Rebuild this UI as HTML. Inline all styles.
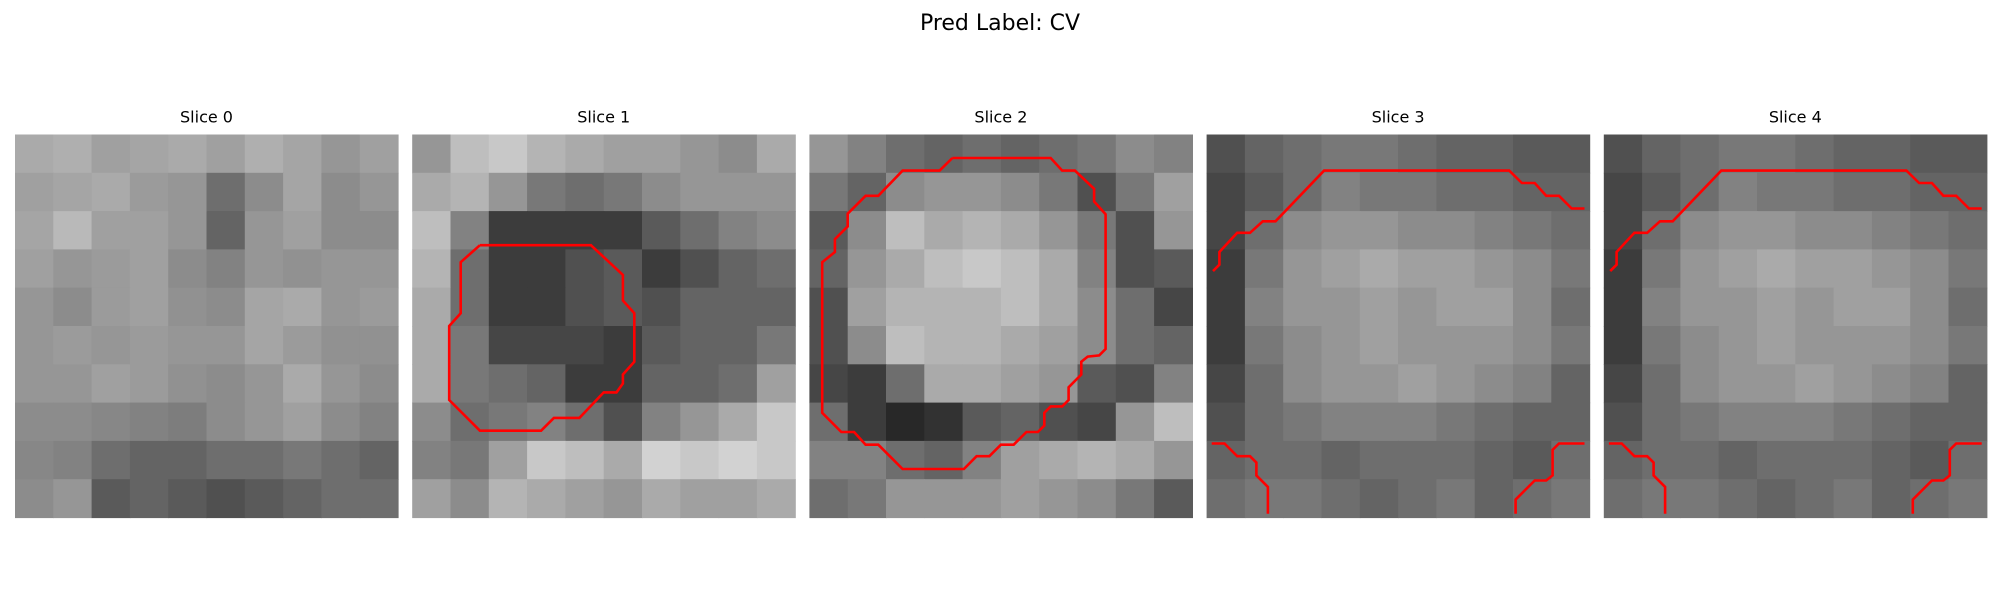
<!DOCTYPE html>
<html><head><meta charset="utf-8">
<style>
html,body{margin:0;padding:0;background:#fff;}
svg{display:block;}
text{font-family:"DejaVu Sans","Liberation Sans",sans-serif;fill:#000;}
</style></head>
<body>
<svg id="fig" width="2000" height="600" viewBox="0 0 2000 600">
<text x="1000" y="30" font-size="22" text-anchor="middle">Pred Label: CV</text>
<g id="panels"></g>
</svg>
<script>
const sliceTitles = ["Slice 0","Slice 1","Slice 2","Slice 3","Slice 4"];
const slice0 = [
[170,175,160,165,170,160,175,165,150,160],
[160,165,170,155,150,110,140,165,140,150],
[165,185,160,160,150,100,150,160,140,140],
[160,150,155,160,140,130,150,145,150,150],
[150,140,155,160,145,140,165,170,150,155],
[150,155,150,155,150,150,165,155,145,145],
[150,150,160,155,145,140,150,170,150,140],
[140,140,135,130,125,140,150,160,140,130],
[135,130,110,100,100,110,110,120,110,100],
[140,150,90,100,90,80,90,100,110,110]];
const slice1 = [
[150,190,200,180,170,160,160,150,140,170],
[170,180,150,120,110,120,140,150,150,150],
[190,130,60,60,60,60,90,110,130,140],
[180,110,60,60,80,90,60,80,100,110],
[170,110,60,60,80,90,80,100,100,100],
[170,120,70,70,70,60,90,100,100,120],
[170,120,110,100,60,60,100,100,110,160],
[140,110,120,130,110,80,130,150,170,200],
[130,120,160,200,190,170,210,200,210,200],
[160,140,180,170,160,150,170,160,160,170]];
const slice2 = [
[150,130,110,100,110,100,110,120,140,130],
[120,100,140,150,150,140,120,80,120,160],
[90,140,190,170,180,170,150,120,80,150],
[100,150,170,190,200,190,170,130,80,90],
[80,160,180,180,180,190,170,140,110,70],
[80,140,190,180,180,170,160,140,110,100],
[70,60,110,170,170,160,150,90,80,130],
[110,60,40,50,90,100,80,70,150,190],
[130,130,110,100,130,160,170,180,170,150],
[110,120,150,150,150,160,150,140,120,90]];
const slice3 = [
[80,100,110,120,120,110,100,100,90,90],
[70,90,110,130,120,120,110,110,100,100],
[70,110,140,150,150,140,140,130,120,110],
[60,120,150,160,170,160,160,150,140,120],
[60,130,150,150,160,150,160,160,140,110],
[60,120,140,150,160,150,150,150,140,120],
[70,110,140,150,150,160,150,140,130,100],
[80,110,120,130,130,130,120,110,100,100],
[100,110,110,100,110,110,110,100,90,110],
[110,120,120,110,100,110,120,100,110,120]];
const slice4 = slice3;
const sliceGrids = [slice0,slice1,slice2,slice3,slice4];
const contour1 = [[[5.3,8.67],[14,8.67],[16.5,11],[16.5,13],[17.4,14],[17.4,17.8],[16.5,18.8],[16.5,19.5],[16,20.2],[15,20.2],[13.1,22.2],[11.1,22.2],[10.1,23.2],[5.3,23.2],[2.9,20.8],[2.9,15],[3.8,14],[3.8,10],[5.3,8.67]]];
const contour2 = [[[11.2,1.84],[18.9,1.84],[19.8,2.83],[20.8,2.83],[22.3,4.25],[22.3,5.25],[23.2,6.25],[23.2,16.8],[22.7,17.3],[21.8,17.4],[21.3,17.8],[21.3,18.8],[20.3,19.8],[20.3,20.8],[19.8,21.3],[18.9,21.3],[18.4,21.8],[18.4,22.8],[17.9,23.3],[17,23.3],[16,24.3],[15,24.3],[14.1,25.2],[13.1,25.2],[12.1,26.2],[7.3,26.2],[5.4,24.3],[4.4,24.3],[3.5,23.3],[2.5,23.3],[1,21.8],[1,10],[2,9.2],[2,8.2],[3,7.2],[3,6.2],[4.4,4.8],[5.4,4.8],[7.3,2.83],[10.2,2.83],[11.2,1.84]]];
const contour3 = [
[[0.5,10.7],[1,10.2],[1,9.2],[2.4,7.7],[3.4,7.7],[4.4,6.8],[5.4,6.8],[9.2,2.83],[23.7,2.83],[24.7,3.8],[25.7,3.8],[26.6,4.8],[27.6,4.8],[28.6,5.8],[29.6,5.8]],
[[0.4,24.2],[1.4,24.2],[2.4,25.2],[3.4,25.2],[3.9,25.7],[3.9,26.7],[4.8,27.6],[4.8,29.7]],
[[29.6,24.2],[27.6,24.2],[27.1,24.7],[27.1,26.7],[26.6,27.1],[25.7,27.1],[24.2,28.6],[24.2,29.7]]];
const contours = [[],contour1,contour2,contour3,contour3];

const NS="http://www.w3.org/2000/svg";
const panelX0=15, panelStep=397.2, panelY0=134.5, panelSize=383, imgCells=30;
const root=document.getElementById('panels');
function mk(tag,attrs){const e=document.createElementNS(NS,tag);for(const k in attrs)e.setAttribute(k,attrs[k]);return e;}
sliceGrids.forEach((grid,p)=>{
  const px=panelX0+p*panelStep;
  const g=mk('g',{});
  
  
  const t=mk('text',{x:px+panelSize/2,y:panelY0-12,'font-size':16,'text-anchor':'middle'});
  t.textContent=sliceTitles[p];
  
  
  g.appendChild(t);
  const n=grid.length, cs=panelSize/n;
  grid.forEach((row,r)=>row.forEach((v,c)=>{
    const rect=mk('rect',{x:px+c*cs,y:panelY0+r*cs,width:cs+0.6,height:cs+0.6,fill:`rgb(${v},${v},${v})`});
    
    
    g.appendChild(rect);
  }));
  const sc=panelSize/imgCells;
  contours[p].forEach((line,i)=>{
    const pts=line.map(q=>(px+q[0]*sc).toFixed(1)+','+(panelY0+q[1]*sc).toFixed(1)).join(' ');
    const pl=mk('polyline',{points:pts,fill:'none',stroke:'#ff0000','stroke-width':2.6,'stroke-linejoin':'miter'});
    
    
    g.appendChild(pl);
  });
  root.appendChild(g);
});
</script>
</body></html>
